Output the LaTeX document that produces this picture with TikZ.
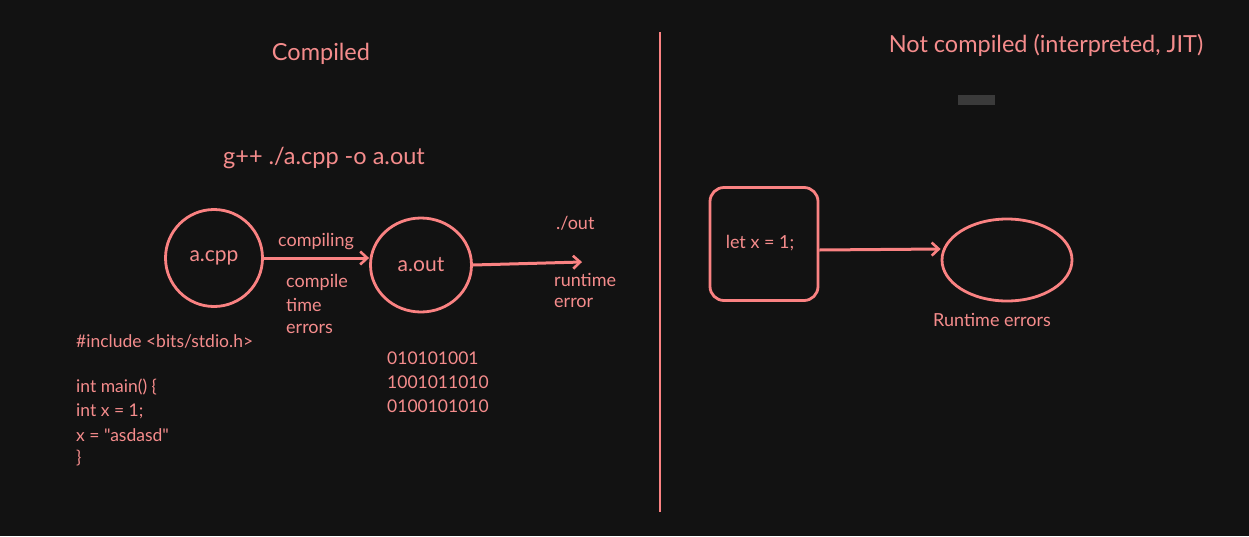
\documentclass[tikz,border=0pt]{standalone}
\usepackage{fontspec}
\setmainfont{Lato}
\newfontfamily\codefont{Lato}
\usetikzlibrary{arrows.meta,shapes.geometric}
\definecolor{bg}{RGB}{18,18,18}
\definecolor{ink}{RGB}{250,130,130}
\definecolor{txt}{RGB}{245,140,140}
\definecolor{chip}{RGB}{58,58,58}
\begin{document}
\begin{tikzpicture}[x=1pt,y=-1pt,
  shape line/.style={draw=ink,line width=2.8pt},
  title/.style={text=txt,font=\fontsize{23.5}{28}\selectfont},
  lbl/.style={text=txt,font=\fontsize{18}{22}\selectfont,inner sep=0pt},
  code/.style={text=txt,font=\codefont\fontsize{17.5}{21}\selectfont,inner sep=0pt,anchor=west},
  conn/.style={draw=ink,line width=3pt,-{Straight Barb[length=7pt,width=13pt,line width=2.6pt]}}]
\useasboundingbox[fill=bg] (0,0) rectangle (1249,536);
% titles
\node[title] (t1) at (321,54) {Compiled};
\node[title] (cmd) at (324,158) {g++ ./a.cpp -o a.out};
\node[title] (t2) at (1046,45) {Not compiled (interpreted, JIT)};
\node[fill=chip,minimum width=37pt,minimum height=10pt,inner sep=0pt] (chip) at (976,100) {};
% divider
\coordinate (d1) at (660,32);
\coordinate (d2) at (660,512);
\draw[ink,line width=2.8pt] (d1) -- (d2);
% left graph
\node[shape line,circle,minimum size=97pt,inner sep=0pt,text=txt,font=\fontsize{21}{25}\selectfont] (cpp) at (214,258) {a.cpp};
\node[shape line,ellipse,minimum width=101pt,minimum height=94pt,inner sep=0pt,text=txt,font=\fontsize{21}{25}\selectfont] (out) at (421,265) {a.out};
\coordinate (run) at (582,262);
\draw[conn] (cpp.east) -- (out.west |- cpp.east);
\draw[conn] (out.east) -- (run);
\node[lbl] (l1) at (316,242) {compiling};
\node[lbl,anchor=west] (l2) at (286,282) {compile};
\node[lbl,anchor=west] (l3) at (286,305) {time};
\node[lbl,anchor=west] (l4) at (286,329) {errors};
\node[lbl,anchor=west] (l5) at (556,223) {./out};
\node[lbl,anchor=west] (l6) at (554,280) {runtime};
\node[lbl,anchor=west] (l7) at (554,303) {error};
% code
\node[code] (c1) at (76,341) {\#include <bits/stdio.h>};
\node[code] (c2) at (76,387) {int main() \{};
\node[code] (c3) at (76,411) {int x = 1;};
\node[code] (c4) at (76,435) {x = "asdasd"};
\node[code] (c5) at (76,458) {\}};
\node[code] (b1) at (387,358) {010101001};
\node[code] (b2) at (387,382) {1001011010};
\node[code] (b3) at (387,406) {0100101010};
% right graph
\node[shape line,rounded corners=14pt,minimum width=108pt,minimum height=113pt,inner sep=0pt] (box) at (764,244) {};
\node[lbl,font=\fontsize{18}{22}\selectfont] (let) at (760,243) {let x = 1;};
\node[shape line,ellipse,minimum width=130pt,minimum height=82pt,inner sep=0pt] (ell) at (1007,260) {};
\draw[conn] (box.east |- 0,250) -- (ell.west |- 0,249);
\node[lbl] (rt) at (992,320) {Runtime errors};
\end{tikzpicture}
\end{document}
